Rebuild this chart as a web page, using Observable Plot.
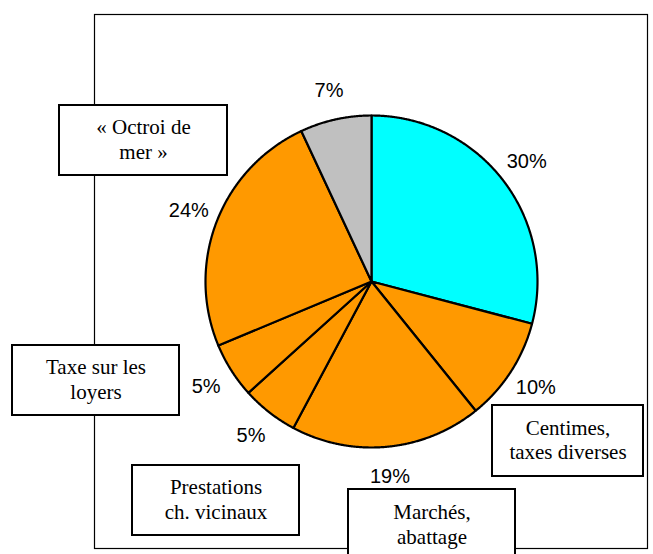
<!DOCTYPE html>
<html><head><meta charset="utf-8">
<script src="https://cdn.jsdelivr.net/npm/d3@7"></script>
<script src="https://cdn.jsdelivr.net/npm/@observablehq/plot@0.6"></script>
<style>
body{margin:0;background:#fff}
</style></head><body><div id="wrap"></div>
<script>
// Slice shares (read from the slice boundaries), in order clockwise from 12 o'clock
const values = [29.1, 10.1, 18.6, 5.5, 5.4, 24.35, 6.95];
// Printed percentage labels
const pctLabels = ["30%", "10%", "19%", "5%", "5%", "24%", "7%"];
// Category names (two unlabelled slices)
const names = ["", "Centimes,\ntaxes diverses", "Marchés,\nabattage", "Prestations\nch. vicinaux", "Taxe sur les\nloyers", "« Octroi de\nmer »", ""];
const colors = ["#00FFFF", "#FF9900", "#FF9900", "#FF9900", "#FF9900", "#FF9900", "#C0C0C0"];

// Layout of the callout boxes (pixels): [slice index, left, top, width, height]
const boxLayout = [[5, 59, 105, 168, 70], [4, 12, 345, 167, 70], [3, 132, 465, 167, 70], [2, 348, 489, 167, 72], [1, 492, 405, 151, 71]];

const W = 653, H = 554, R = 166;
const mL = 94, mR = 6, mT = 14, mB = 6, cx = 371, cy = 281;
const toX = px => (px - cx) / R, toY = py => (cy - py) / R;

const arcs = d3.pie().sort(null).value(d => d)(values);
const slicePts = [];
arcs.forEach((a, i) => {
  slicePts.push({i, x: 0, y: 0, color: colors[i]});
  const n = Math.max(2, Math.ceil((a.endAngle - a.startAngle) / 0.005));
  for (let k = 0; k <= n; k++) {
    const t = a.startAngle + (a.endAngle - a.startAngle) * k / n;
    slicePts.push({i, x: Math.sin(t), y: Math.cos(t), color: colors[i]});
  }
});
const labelR = 1.18;
const labelPts = arcs.map((a, i) => {
  const m = (a.startAngle + a.endAngle) / 2;
  return {x: labelR * Math.sin(m), y: labelR * Math.cos(m), text: pctLabels[i]};
});
const boxes = boxLayout.map(([i, l, t, w, h]) => ({
  x1: toX(l), x2: toX(l + w), y1: toY(t), y2: toY(t + h),
  xc: toX(l + w / 2), yc: toY(t + h / 2 - 2), text: names[i]
}));

const chart = Plot.plot({
  width: W, height: H,
  marginLeft: mL, marginRight: mR, marginTop: mT, marginBottom: mB,
  x: {domain: [-(cx - mL) / R, (W - mR - cx) / R], axis: null},
  y: {domain: [-(H - mB - cy) / R, (cy - mT) / R], axis: null},
  marks: [
    Plot.frame({stroke: "#000", strokeWidth: 1.2}),
    Plot.line(slicePts, {x: "x", y: "y", z: "i", fill: "color", stroke: "#000", strokeWidth: 2.2, strokeLinejoin: "round", curve: "linear-closed"}),
    Plot.text(labelPts, {x: "x", y: "y", text: "text", fontSize: 20, fontFamily: "Liberation Sans, Arial, sans-serif", fill: "#000"}),
    Plot.rect(boxes, {x1: "x1", x2: "x2", y1: "y1", y2: "y2", fill: "#fff", stroke: "#000", strokeWidth: 2}),
    Plot.text(boxes, {x: "xc", y: "yc", text: "text", fontSize: 21, lineHeight: 1.19, fontFamily: "Liberation Serif, Times New Roman, serif", fill: "#000"})
  ]
});
document.getElementById("wrap").appendChild(chart);
</script>
</body></html>
